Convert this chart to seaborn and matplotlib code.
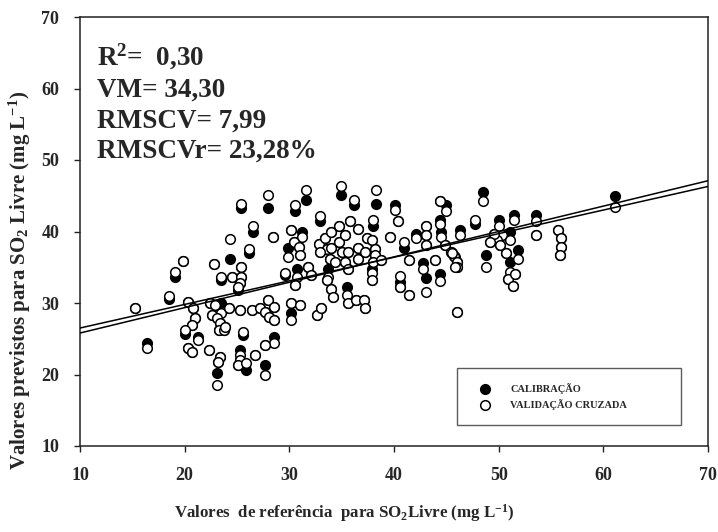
import matplotlib
matplotlib.use("Agg")
import matplotlib.pyplot as plt
import seaborn as sns
import numpy as np
import pandas as pd

# ---- data ----
ref = [15.3, 16.4, 18.5, 19.1, 19.8, 20.3, 20.8, 21.0, 20.7, 20.0, 20.3, 20.7, 21.3, 22.3, 23.1,
       23.4, 23.2, 22.8, 24.3, 23.5, 24.5, 25.4, 25.4, 25.3, 25.1, 26.1, 26.5, 28.4, 22.4, 22.9,
       23.5, 24.2, 22.6, 23.1, 23.4, 23.3, 23.8, 23.9, 25.3, 25.6, 25.3, 25.3, 25.1, 25.9, 26.7,
       26.4, 27.2, 28.0, 27.7, 28.5, 28.1, 28.5, 28.5, 27.7, 27.7, 25.4, 28.0, 29.6, 30.5, 31.6,
       32.9, 34.9, 36.2, 30.2, 31.2, 30.4, 30.9, 29.9, 31.0, 30.7, 30.5, 31.8, 32.1, 30.2, 31.0,
       30.2, 32.6, 33.0, 32.8, 33.4, 34.0, 34.7, 33.6, 32.9, 33.9, 34.7, 35.3, 35.8, 36.6, 34.0,
       35.0, 34.4, 35.6, 36.6, 35.3, 33.7, 33.6, 35.6, 36.6, 37.2, 37.4, 34.0, 34.2, 35.5, 35.6,
       36.4, 37.1, 37.2, 38.3, 40.1, 40.4, 38.0, 37.9, 38.2, 38.2, 38.0, 37.9, 37.9, 39.6, 41.0,
       41.4, 42.1, 43.1, 43.1, 43.1, 44.4, 45.0, 44.4, 44.5, 44.9, 45.4, 45.7, 46.0, 46.0, 46.3,
       47.7, 48.5, 50.0, 50.3, 49.8, 51.5, 53.6, 53.6, 55.7, 56.0, 56.0, 55.9, 61.1, 49.6, 49.2,
       50.1, 51.1, 50.7, 51.8, 51.1, 50.9, 51.6, 51.4, 48.8, 46.0, 42.8, 43.1, 44.4, 45.8, 45.5,
       40.6, 40.6, 41.4, 43.9, 38.8]
calibracao = [29.3, 24.4, 30.6, 33.7, 35.9, 30.2, 29.3, 27.9, 26.9, 25.6, 23.7, 23.2, 25.3, 23.4, 20.2,
              22.5, 21.8, 35.5, 36.1, 33.2, 33.7, 35.1, 33.7, 32.8, 31.8, 37.0, 40.0, 39.3, 30.0, 29.7,
              30.0, 29.3, 28.3, 27.9, 27.2, 26.2, 26.2, 26.7, 29.0, 25.5, 23.4, 22.0, 21.3, 20.6, 22.7,
              29.0, 29.3, 30.4, 28.8, 29.5, 28.1, 27.6, 25.3, 24.1, 21.3, 43.3, 43.3, 33.9, 42.8, 44.4,
              41.4, 45.1, 43.7, 40.2, 40.0, 38.6, 37.9, 37.7, 36.7, 34.8, 32.5, 35.1, 33.9, 30.0, 29.7,
              28.6, 28.3, 29.3, 38.3, 39.1, 40.0, 40.7, 37.6, 37.2, 36.2, 38.6, 39.5, 41.4, 40.4, 37.7,
              37.2, 35.8, 37.2, 37.7, 35.8, 34.8, 33.2, 34.8, 36.2, 37.2, 39.1, 32.0, 30.9, 32.3, 30.0,
              30.4, 30.4, 29.3, 43.9, 43.7, 41.4, 40.7, 38.8, 37.6, 36.7, 35.8, 34.8, 33.2, 39.3, 37.7,
              36.0, 39.7, 40.7, 39.5, 38.1, 44.2, 43.7, 41.6, 39.9, 38.1, 37.2, 36.6, 35.8, 35.0, 40.2,
              41.1, 45.5, 41.6, 39.5, 38.8, 42.3, 42.3, 39.5, 40.2, 39.1, 37.9, 36.7, 44.9, 39.7, 38.6,
              38.1, 40.0, 37.0, 37.4, 35.7, 33.4, 34.1, 32.4, 36.7, 28.8, 35.6, 33.5, 34.1, 36.5, 37.0,
              33.0, 32.3, 31.1, 36.0, 36.0]
validacao = [29.3, 23.7, 31.0, 34.4, 35.9, 30.2, 29.3, 27.9, 26.9, 26.2, 23.7, 23.2, 24.8, 23.4, 18.5,
             22.5, 21.8, 35.5, 39.0, 33.7, 33.7, 35.1, 33.7, 32.8, 32.3, 37.6, 40.7, 39.3, 30.0, 29.7,
             28.6, 29.3, 28.3, 27.9, 27.2, 26.2, 26.2, 26.7, 29.0, 26.0, 22.7, 22.0, 21.3, 21.6, 22.7,
             29.0, 29.3, 30.4, 28.8, 29.5, 28.1, 27.6, 24.4, 24.1, 19.9, 43.9, 45.1, 34.2, 43.7, 45.8,
             42.1, 46.3, 44.4, 40.2, 39.3, 38.6, 37.9, 36.5, 36.7, 33.7, 32.5, 35.1, 33.9, 30.0, 29.7,
             27.6, 28.3, 29.3, 38.3, 39.1, 40.0, 40.7, 37.6, 37.2, 36.2, 38.6, 39.5, 41.4, 40.4, 37.7,
             37.2, 35.8, 37.2, 37.7, 35.8, 33.7, 33.2, 34.8, 36.2, 37.2, 39.1, 32.0, 30.9, 31.1, 30.0,
             30.4, 30.4, 29.3, 45.8, 43.0, 41.4, 41.6, 38.8, 37.6, 36.7, 35.8, 34.2, 33.2, 39.3, 38.6,
             36.0, 39.1, 40.7, 39.5, 38.1, 44.2, 42.8, 41.0, 39.3, 38.1, 37.2, 36.6, 35.8, 35.0, 39.5,
             41.6, 44.2, 40.7, 39.5, 38.8, 41.6, 41.4, 39.5, 40.2, 39.1, 37.9, 36.7, 43.4, 39.7, 38.6,
             38.1, 38.8, 37.0, 36.2, 34.4, 33.4, 34.1, 32.4, 35.1, 28.8, 34.8, 31.6, 33.1, 35.0, 37.0,
             33.8, 32.3, 31.1, 36.0, 36.0]

# regression lines (intercept, slope)
line_cal = (22.25, 0.355)
line_val = (23.20, 0.330)

x_ticks = [10, 20, 30, 40, 50, 60, 70]
y_ticks = [10, 20, 30, 40, 50, 60, 70]
stats_lines = [r"R$^{\mathbf{2}}$=  0,30", "VM= 34,30", "RMSCV= 7,99", "RMSCVr= 23,28%"]
legend_labels = ["CALIBRAÇÃO", "VALIDAÇÃO CRUZADA"]

# ---- style ----
sns.set_style("white")
plt.rcParams['font.family'] = ['Liberation Serif', 'DejaVu Serif']
plt.rcParams['font.weight'] = 'bold'
plt.rcParams['mathtext.fontset'] = 'custom'
plt.rcParams['mathtext.rm'] = 'Liberation Serif:bold'
plt.rcParams['mathtext.bf'] = 'Liberation Serif:bold'
plt.rcParams['mathtext.it'] = 'Liberation Serif:bold'

W, H = 718, 532
fig = plt.figure(figsize=(W / 100, H / 100), dpi=100)
ax = fig.add_axes([80 / W, (H - 446) / H, 628 / W, 429 / H])

df_cal = pd.DataFrame({"ref": ref, "pred": calibracao})
df_val = pd.DataFrame({"ref": ref, "pred": validacao})

sns.scatterplot(data=df_cal, x="ref", y="pred", ax=ax, color="black", edgecolor="black",
                s=48, linewidth=1.1, label=legend_labels[0], zorder=2)
sns.scatterplot(data=df_val, x="ref", y="pred", ax=ax, color="white", edgecolor="black",
                s=48, linewidth=1.1, label=legend_labels[1], zorder=3)

xl = np.array([x_ticks[0], x_ticks[-1]], dtype=float)
for b0, b1 in (line_cal, line_val):
    sns.lineplot(x=xl, y=b0 + b1 * xl, ax=ax, color="black", linewidth=1.1, legend=False, zorder=4)

ax.set_xlim(10, 70)
ax.set_ylim(10, 70)
ax.set_xticks(x_ticks)
ax.set_yticks(y_ticks)
ax.set_xlabel("")
ax.set_ylabel("")
for s in ax.spines.values():
    s.set_color("#222222")
    s.set_linewidth(1.1)
ax.tick_params(axis="both", direction="out", length=4, width=1.0, color="#222222",
               labelsize=13, bottom=True, left=True)
ax.tick_params(axis="x", pad=11)
ax.tick_params(axis="y", pad=11)
for lab in ax.get_xticklabels() + ax.get_yticklabels():
    lab.set_fontweight("bold")

# stats text
baselines = [65, 97, 128, 158]
for t, b in zip(stats_lines, baselines):
    fig.text(97 / W, 1 - b / H, t, fontsize=19.5, fontweight="bold", va="baseline", ha="left")

# axis labels
fig.text(344 / W, 1 - 513 / H, r"Valores  de referência  para SO$_{\mathbf{2}}$Livre (mg L$^{\mathbf{-1}}$)",
         fontsize=12.2, fontweight="bold", ha="center", va="center")
fig.text(20 / W, 1 - 280 / H, r"Valores previstos para SO$_{\mathbf{2}}$ Livre (mg L$^{\mathbf{-1}}$)",
         fontsize=15, fontweight="bold", ha="center", va="center", rotation=90)

handles, labels = ax.get_legend_handles_labels()
leg = ax.legend(handles, labels, loc="center", bbox_to_anchor=(0.600, 0.047, 0.357, 0.137),
                mode="expand", frameon=True, fancybox=False, edgecolor="#333333",
                prop={"size": 7.5, "weight": "bold"}, borderpad=1.45, labelspacing=0.45,
                handlelength=2.6, handletextpad=1.1, scatterpoints=1, borderaxespad=0)
leg.get_frame().set_linewidth(1.0)

fig.savefig("out.png", dpi=100)
